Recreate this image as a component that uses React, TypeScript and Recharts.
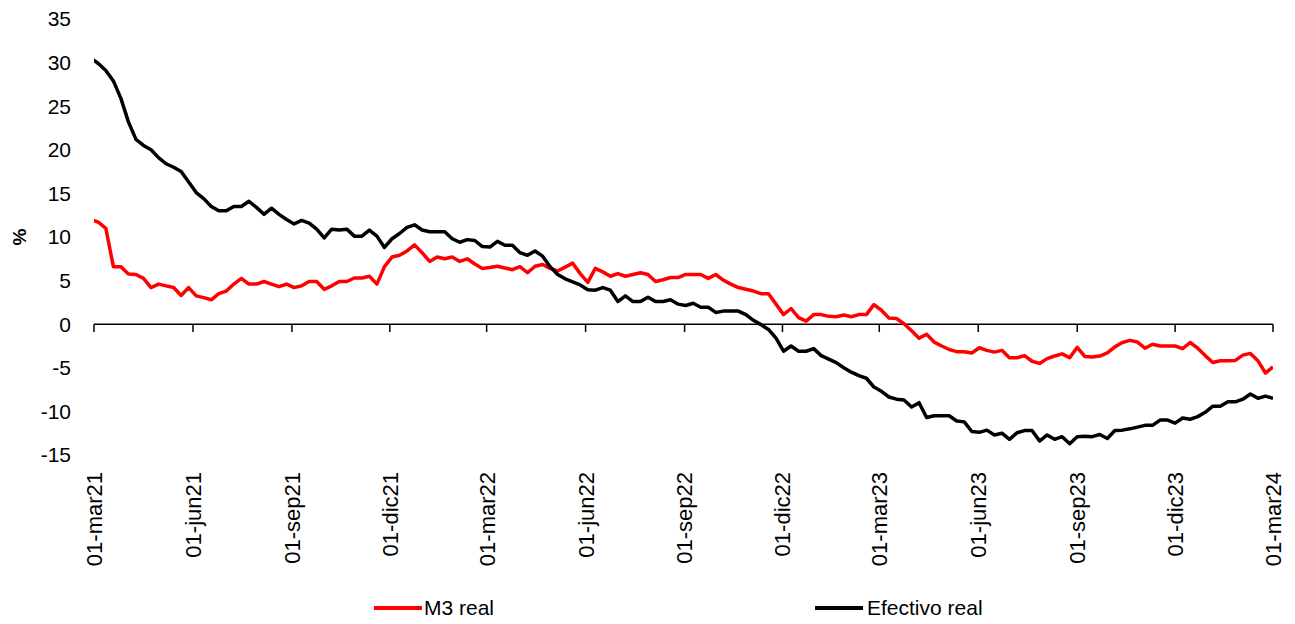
import { LineChart, Line, XAxis, YAxis, ReferenceLine, Label } from "recharts";

const FONT = "'Liberation Sans', Arial, sans-serif";
const WEEK = 7 * 24 * 3600 * 1000;
// weekly observations (Fridays), first one falls just before the axis start
const firstWeek = Date.UTC(2021, 1, 26);

const m3Real = [
  12.0, 11.7, 11.0, 6.6, 6.6, 5.75, 5.7, 5.25, 4.2, 4.6,
  4.4, 4.2, 3.3, 4.2, 3.25, 3.05, 2.8, 3.5, 3.8, 4.6,
  5.25, 4.6, 4.6, 4.9, 4.6, 4.3, 4.6, 4.2, 4.4, 4.9,
  4.9, 4.0, 4.4, 4.9, 4.9, 5.3, 5.3, 5.5, 4.6, 6.6,
  7.7, 7.9, 8.4, 9.1, 8.2, 7.2, 7.7, 7.5, 7.7, 7.2,
  7.5, 6.9, 6.4, 6.5, 6.65, 6.45, 6.25, 6.6, 5.9, 6.65,
  6.85, 6.4, 6.1, 6.55, 7.0, 5.8, 4.8, 6.4, 6.0, 5.5,
  5.8, 5.5, 5.7, 5.9, 5.7, 4.9, 5.1, 5.35, 5.35, 5.7,
  5.7, 5.7, 5.25, 5.7, 5.05, 4.6, 4.2, 4.0, 3.8, 3.5,
  3.5, 2.3, 1.1, 1.8, 0.75, 0.35, 1.1, 1.1, 0.9, 0.85,
  1.05, 0.85, 1.1, 1.1, 2.25, 1.6, 0.7, 0.65, 0.05, -0.75,
  -1.6, -1.15, -2.05, -2.5, -2.9, -3.15, -3.15, -3.3, -2.7, -3.0,
  -3.2, -3.0, -3.85, -3.85, -3.6, -4.25, -4.5, -3.95, -3.65, -3.4,
  -3.85, -2.65, -3.7, -3.75, -3.65, -3.3, -2.6, -2.1, -1.85, -2.05,
  -2.75, -2.3, -2.5, -2.5, -2.5, -2.8, -2.1, -2.75, -3.6, -4.4,
  -4.2, -4.2, -4.15, -3.55, -3.35, -4.2, -5.6, -4.9,
];

const efectivoReal = [
  30.5, 29.9, 29.1, 27.9, 25.9, 23.2, 21.2, 20.5, 20.0, 19.1,
  18.4, 18.0, 17.5, 16.3, 15.1, 14.4, 13.5, 13.0, 13.0, 13.5,
  13.5, 14.1, 13.4, 12.6, 13.3, 12.6, 12.0, 11.5, 11.9, 11.6,
  10.9, 9.9, 10.9, 10.8, 10.9, 10.1, 10.1, 10.8, 10.1, 8.8,
  9.8, 10.4, 11.1, 11.4, 10.8, 10.6, 10.6, 10.6, 9.8, 9.4,
  9.7, 9.6, 8.9, 8.85, 9.5, 9.05, 9.05, 8.2, 7.9, 8.4,
  7.8, 6.6, 5.7, 5.2, 4.85, 4.5, 3.95, 3.9, 4.2, 3.9,
  2.6, 3.25, 2.6, 2.6, 3.1, 2.6, 2.6, 2.8, 2.3, 2.15,
  2.4, 1.95, 1.95, 1.35, 1.5, 1.5, 1.5, 1.1, 0.45, -0.05,
  -0.6, -1.6, -3.1, -2.5, -3.1, -3.1, -2.8, -3.6, -4.0, -4.4,
  -5.0, -5.5, -5.9, -6.2, -7.2, -7.7, -8.35, -8.6, -8.7, -9.5,
  -9.0, -10.7, -10.5, -10.5, -10.5, -11.1, -11.2, -12.3, -12.4, -12.15,
  -12.7, -12.5, -13.2, -12.45, -12.2, -12.2, -13.4, -12.7, -13.2, -12.9,
  -13.7, -12.9, -12.85, -12.9, -12.65, -13.1, -12.2, -12.15, -12.0, -11.8,
  -11.6, -11.6, -11.0, -11.0, -11.35, -10.75, -10.9, -10.6, -10.1, -9.4,
  -9.4, -8.9, -8.9, -8.6, -8.0, -8.5, -8.25, -8.5,
];

const tickDates = [
  Date.UTC(2021, 2, 1), Date.UTC(2021, 5, 1), Date.UTC(2021, 8, 1), Date.UTC(2021, 11, 1),
  Date.UTC(2022, 2, 1), Date.UTC(2022, 5, 1), Date.UTC(2022, 8, 1), Date.UTC(2022, 11, 1),
  Date.UTC(2023, 2, 1), Date.UTC(2023, 5, 1), Date.UTC(2023, 8, 1), Date.UTC(2023, 11, 1),
  Date.UTC(2024, 2, 1),
];
const tickLabels = [
  "01-mar21", "01-jun21", "01-sep21", "01-dic21",
  "01-mar22", "01-jun22", "01-sep22", "01-dic22",
  "01-mar23", "01-jun23", "01-sep23", "01-dic23",
  "01-mar24",
];
const yTicks = [-15, -10, -5, 0, 5, 10, 15, 20, 25, 30, 35];

const data = m3Real.map((m3, i) => ({
  t: firstWeek + i * WEEK,
  m3,
  efectivo: efectivoReal[i],
}));

function DateTick({ x, y, payload }: any) {
  const label = tickLabels[tickDates.indexOf(payload.value)];
  return (
    <text
      x={x}
      y={y}
      dy="0.36em"
      transform={`rotate(-90, ${x}, ${y})`}
      textAnchor="end"
      fontSize={22}
      fontFamily={FONT}
      fill="#000"
    >
      {label}
    </text>
  );
}

function PercentLabel({ viewBox }: any) {
  const cx = viewBox.x + 19;
  const cy = viewBox.y + viewBox.height / 2;
  return (
    <text
      x={cx}
      y={cy}
      dy="0.36em"
      transform={`rotate(-90, ${cx}, ${cy})`}
      textAnchor="middle"
      fontSize={19}
      fontWeight="bold"
      fontFamily={FONT}
      fill="#000"
    >
      %
    </text>
  );
}

export default function App() {
  return (
    <div style={{ position: "absolute", left: 0, top: 0, width: 1295, height: 624, background: "#fff" }}>
      <LineChart width={1295} height={624} data={data} margin={{ top: 19, right: 22, left: 0, bottom: 0 }}>
        <XAxis
          dataKey="t"
          type="number"
          domain={[tickDates[0], tickDates[tickDates.length - 1]]}
          allowDataOverflow
          ticks={tickDates}
          interval={0}
          height={169}
          axisLine={false}
          tickLine={false}
          tickSize={0}
          tickMargin={17}
          tick={<DateTick />}
        />
        <YAxis
          type="number"
          domain={[-15, 35]}
          ticks={yTicks}
          interval={0}
          width={94}
          axisLine={false}
          tickLine={false}
          tickSize={0}
          tickMargin={23}
          tick={{ fontSize: 21, fill: "#000", fontFamily: FONT }}
        >
          <Label content={<PercentLabel />} />
        </YAxis>
        <ReferenceLine y={0} stroke="#000" strokeWidth={1.5} />
        {tickDates.map((t) => (
          <ReferenceLine
            key={t}
            segment={[{ x: t, y: 0 }, { x: t, y: -0.9 }]}
            stroke="#000"
            strokeWidth={1.5}
          />
        ))}
        <Line
          type="linear"
          dataKey="m3"
          stroke="#FF0000"
          strokeWidth={3.5}
          strokeLinejoin="round"
          dot={false}
          isAnimationActive={false}
        />
        <Line
          type="linear"
          dataKey="efectivo"
          stroke="#000000"
          strokeWidth={3.5}
          strokeLinejoin="round"
          dot={false}
          isAnimationActive={false}
        />
      </LineChart>
      <div style={{ position: "absolute", left: 374, top: 606, width: 48, height: 4, background: "#FF0000" }} />
      <div style={{ position: "absolute", left: 424, top: 595, fontSize: 21, lineHeight: "26px", fontFamily: FONT, color: "#000" }}>
        M3 real
      </div>
      <div style={{ position: "absolute", left: 815, top: 606, width: 48, height: 4, background: "#000" }} />
      <div style={{ position: "absolute", left: 867, top: 595, fontSize: 21, lineHeight: "26px", fontFamily: FONT, color: "#000" }}>
        Efectivo real
      </div>
    </div>
  );
}
